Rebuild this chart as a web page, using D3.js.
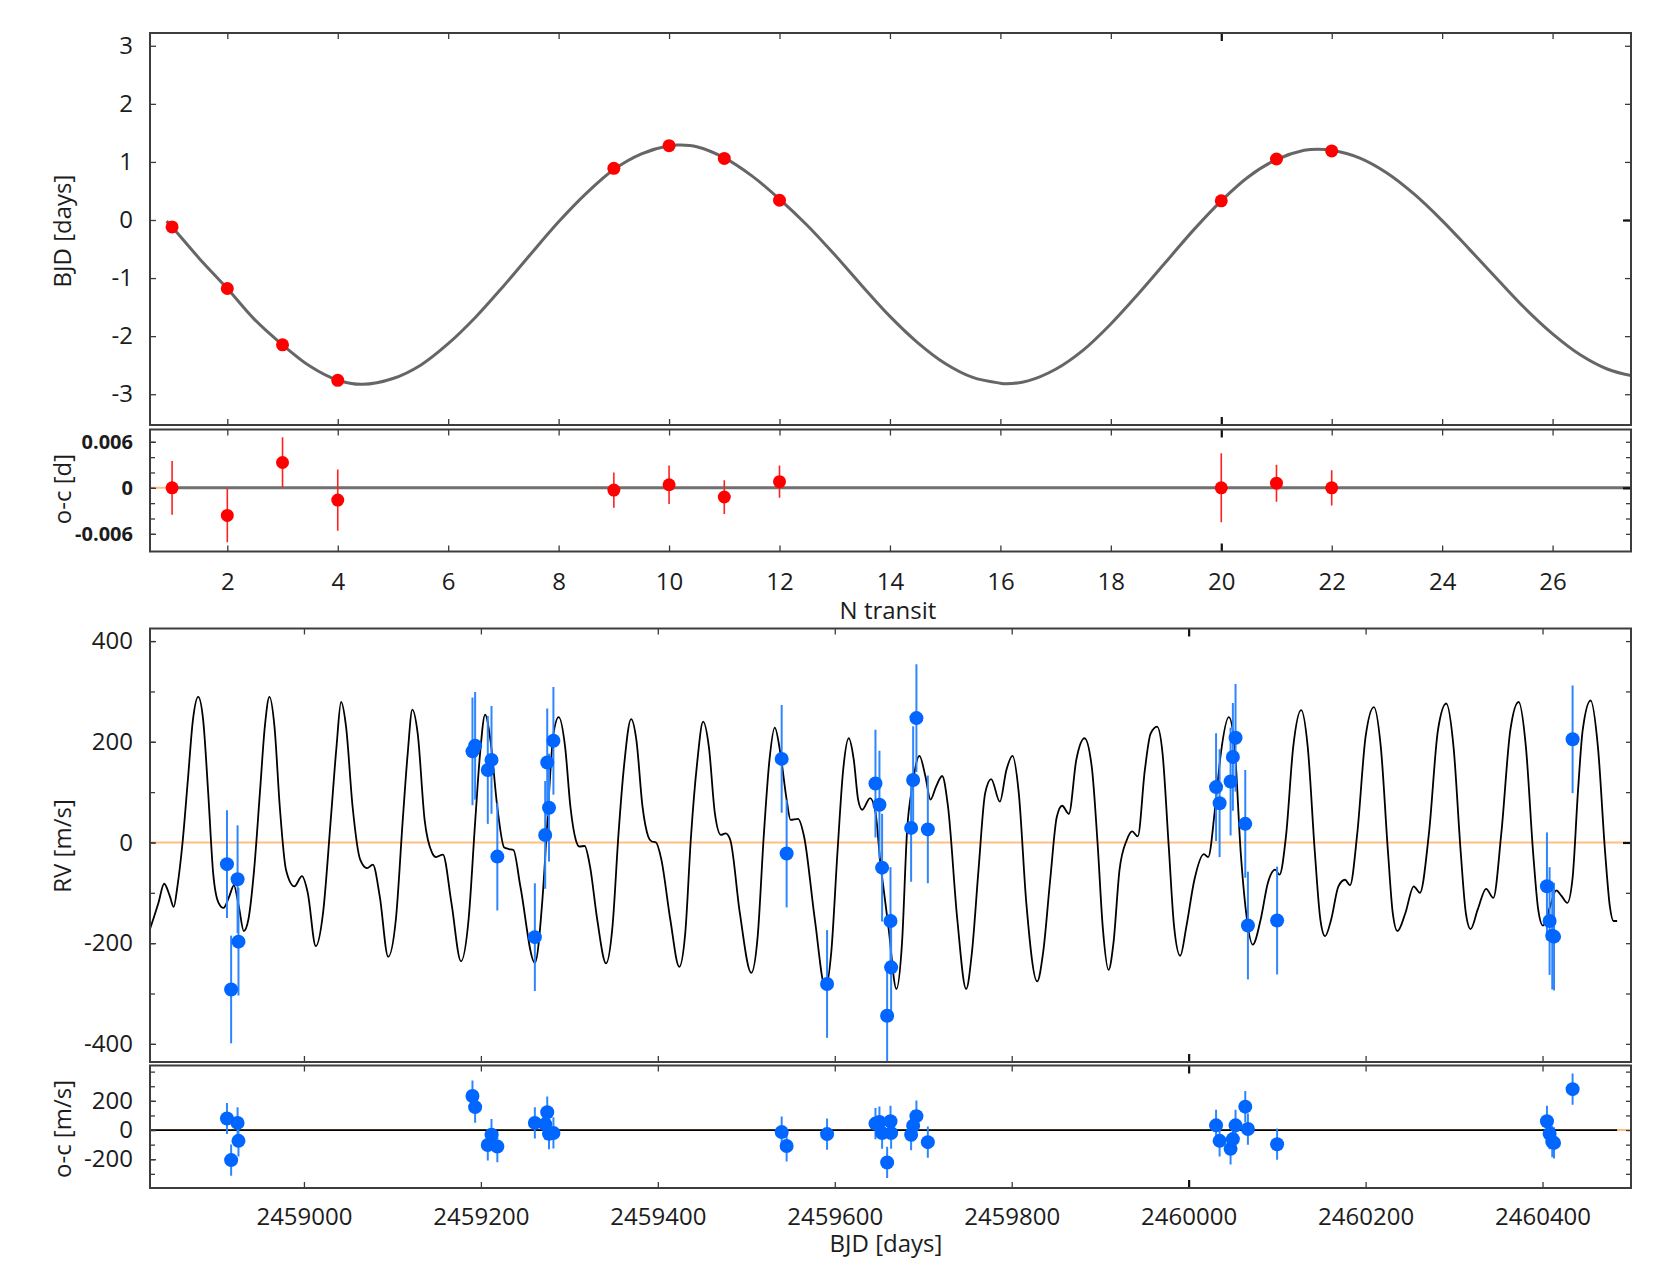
<!DOCTYPE html>
<html><head><meta charset="utf-8">
<script src="https://cdn.jsdelivr.net/npm/d3@7/dist/d3.min.js"></script>
<style>html,body{margin:0;padding:0;background:#fff;}</style>
</head><body>
<svg id="chart" width="1666" height="1270" xmlns="http://www.w3.org/2000/svg"></svg>
<script>
// ---------------- DATA ----------------
const transitN   = [1, 2, 3, 4, 9, 10, 11, 12, 20, 21, 22];
const transitTTV = [-0.12, -1.18, -2.15, -2.76, 0.89, 1.28, 1.06, 0.34, 0.33, 1.05, 1.19];
const transitOC  = [0, -0.0036, 0.0033, -0.0016, -0.0003, 0.0004, -0.0012, 0.0008, 0, 0.0006, 0];
const transitErr = [0.0035, 0.0035, 0.0033, 0.0040, 0.0023, 0.0025, 0.0022, 0.0021, 0.0045, 0.0024, 0.0023];

const ttvModelN   = [0.9, 1, 1.5, 2, 2.5, 3, 3.5, 4, 4.45, 5, 5.5, 6, 6.5, 7, 7.5, 8, 8.5, 9, 9.5, 10, 10.2, 10.5, 11, 11.5, 12, 12.5, 13, 13.5, 14, 14.5, 15, 15.5, 16, 16.1, 16.5, 17, 17.5, 18, 18.5, 19, 19.5, 20, 20.5, 21, 21.5, 21.75, 22, 22.5, 23, 23.5, 24, 24.5, 25, 25.5, 26, 26.5, 27, 27.42];
const ttvModelTTV = [-0.02, -0.12, -0.67, -1.18, -1.72, -2.15, -2.52, -2.76, -2.83, -2.73, -2.50, -2.13, -1.67, -1.14, -0.58, -0.03, 0.46, 0.87, 1.14, 1.28, 1.29, 1.26, 1.07, 0.76, 0.36, -0.09, -0.60, -1.14, -1.66, -2.11, -2.47, -2.71, -2.81, -2.82, -2.77, -2.57, -2.24, -1.79, -1.27, -0.72, -0.17, 0.33, 0.75, 1.04, 1.20, 1.22, 1.20, 1.07, 0.81, 0.44, -0.01, -0.51, -1.02, -1.52, -1.96, -2.32, -2.57, -2.68];

const rvBJD = [2458913, 2458917.7, 2458925, 2458926, 2459190.5, 2459193.5, 2459207.8, 2459212, 2459218.6, 2459261, 2459272.7, 2459275, 2459277, 2459282, 2459540, 2459545.6, 2459591.3, 2459646, 2459650.5, 2459653.5, 2459659.2, 2459663, 2459663.7, 2459686.3, 2459688.6, 2459692.3, 2459705.2, 2460031, 2460035, 2460047.4, 2460050, 2460053, 2460064, 2460067, 2460100, 2460405, 2460408, 2460411, 2460413, 2460434];
const rvVal = [-43, -292, -73, -197, 181, 192, 144, 164, -28, -188, 15, 159, 69, 202, 166, -22, -281, 117, 75, -50, -344, -156, -248, 29, 124, 247, 26, 110, 78, 121, 170, 208, 37, -165, -155, -87, -156, -185, -187, 205];
const rvErr = [107, 107, 107, 107, 107, 107, 107, 107, 107, 107, 107, 107, 107, 107, 107, 107, 107, 107, 107, 107, 107, 107, 107, 107, 107, 107, 107, 107, 107, 107, 107, 107, 107, 107, 107, 107, 107, 107, 107, 107];
const rvOC  = [79, -206, 49, -74, 233, 157, -102, -32, -113, 49, 40, 122, -25, -20, -14, -109, -28, 44, 55, -21, -222, 60, -21, -32, 30, 95, -83, 32, -74, -129, -62, 32, 160, 7, -97, 60, -25, -80, -88, 280];

const rvModelBJD = [2458826.0, 2458835.5, 2458842.0, 2458848.5, 2458852.8, 2458857.0, 2458862.8, 2458868.8, 2458874.5, 2458880.5, 2458886.1, 2458891.8, 2458897.4, 2458903.5, 2458909.1, 2458915.6, 2458920.8, 2458926.4, 2458932.0, 2458937.2, 2458943.7, 2458950.2, 2458955.8, 2458961.0, 2458966.7, 2458972.7, 2458979.7, 2458989.2, 2458997.8, 2459004.3, 2459013.4, 2459021.6, 2459030.3, 2459036.8, 2459042.0, 2459047.6, 2459055.0, 2459063.6, 2459071.4, 2459077.9, 2459085.7, 2459095.2, 2459103.9, 2459111.7, 2459117.3, 2459122.5, 2459128.6, 2459136.4, 2459145.0, 2459149.3, 2459157.1, 2459166.7, 2459177.5, 2459186.1, 2459193.5, 2459199.1, 2459204.8, 2459210.8, 2459218.6, 2459226.4, 2459231.6, 2459236.8, 2459244.6, 2459261.0, 2459269.7, 2459275.0, 2459282.0, 2459288.0, 2459295.2, 2459301.2, 2459307.3, 2459311.3, 2459317.3, 2459323.4, 2459331.5, 2459341.5, 2459348.8, 2459355.6, 2459361.7, 2459369.8, 2459375.8, 2459382.7, 2459389.1, 2459393.1, 2459398.0, 2459404.0, 2459414.1, 2459424.2, 2459431.0, 2459437.5, 2459444.4, 2459451.2, 2459457.7, 2459464.5, 2459471.4, 2459476.6, 2459481.9, 2459492.7, 2459505.6, 2459512.9, 2459519.7, 2459526.2, 2459532.2, 2459538.3, 2459545.6, 2459550.0, 2459558.5, 2459565.3, 2459577.5, 2459589.4, 2459596.0, 2459603.0, 2459609.5, 2459615.8, 2459621.5, 2459626.5, 2459631.0, 2459640.0, 2459646.0, 2459651.6, 2459656.5, 2459661.0, 2459669.7, 2459676.0, 2459681.8, 2459687.5, 2459695.7, 2459702.5, 2459708.2, 2459714.5, 2459721.4, 2459728.0, 2459738.5, 2459748.5, 2459755.0, 2459762.5, 2459770.0, 2459776.8, 2459786.6, 2459794.0, 2459800.9, 2459808.0, 2459816.5, 2459828.8, 2459835.5, 2459843.5, 2459851.0, 2459857.0, 2459864.6, 2459873.0, 2459882.3, 2459890.5, 2459897.0, 2459903.0, 2459909.5, 2459915.0, 2459921.9, 2459930.1, 2459936.2, 2459942.5, 2459950.5, 2459957.0, 2459964.3, 2459970.5, 2459977.5, 2459983.5, 2459990.5, 2459997.5, 2460006.5, 2460017.2, 2460022.1, 2460030.0, 2460036.4, 2460045.4, 2460051.5, 2460058.9, 2460065.0, 2460072.4, 2460081.4, 2460089.6, 2460097.8, 2460102.7, 2460110.0, 2460118.2, 2460127.2, 2460134.6, 2460142.7, 2460148.9, 2460154.2, 2460161.1, 2460169.3, 2460176.7, 2460182.4, 2460190.6, 2460200.0, 2460209.4, 2460217.2, 2460225.4, 2460230.7, 2460236.0, 2460245.0, 2460254.4, 2460261.4, 2460271.6, 2460281.8, 2460291.2, 2460299.4, 2460307.6, 2460313.3, 2460318.6, 2460326.8, 2460336.2, 2460344.4, 2460353.4, 2460363.6, 2460373.0, 2460381.2, 2460389.4, 2460395.1, 2460400.4, 2460408.6, 2460415.5, 2460421.0, 2460428.0, 2460434.0, 2460440.0, 2460445.4, 2460454.4, 2460462.6, 2460470.8, 2460476.1, 2460480.2, 2460484.3];
const rvModelVal = [-172, -120, -82, -107, -128, -87, 0, 124, 243, 289, 243, 98, -61, -120, -130, -107, -85, -127, -176, -153, -54, 98, 230, 289, 230, 71, -54, -87, -67, -100, -206, -140, 45, 190, 279, 230, 71, -34, -51, -44, -107, -227, -153, 45, 177, 264, 216, 45, -21, -29, -24, -120, -236, -153, 40, 177, 254, 203, 70, -10, -13, -15, -87, -239, -110, 37, 215, 249, 190, 71, 5, -8, -7, -48, -153, -240, -166, 18, 150, 245, 203, 71, 12, 2, 0, -34, -153, -247, -180, 12, 157, 240, 190, 58, 15, 18, 5, -140, -259, -186, 12, 164, 228, 180, 85, 45, 47, 12, -153, -289, -219, -21, 144, 207, 164, 84, 65, 88, 60, -41, -110, -173, -291, -200, 25, 110, 172, 131, 85, 111, 132, 71, -153, -291, -219, -54, 98, 126, 81, 144, 172, 98, -120, -276, -219, -74, 51, 73, 57, 164, 207, 150, 0, -170, -253, -200, -54, 5, 22, 12, 144, 216, 230, 177, -8, -166, -225, -166, -74, -23, -29, 70, 177, 249, 200, -21, -140, -203, -153, -80, -54, -64, 12, 190, 263, 190, -21, -153, -186, -153, -87, -74, -85, 18, 210, 269, 190, -21, -140, -176, -140, -87, -100, 18, 223, 276, 190, -21, -140, -172, -133, -92, -110, 18, 223, 279, 190, -21, -133, -165, -127, -95, -105, -120, -70, 100, 223, 282, 190, -21, -127, -156, -156];

const nTickValues   = [2, 4, 6, 8, 10, 12, 14, 16, 18, 20, 22, 24, 26];
const bjdTickValues = [2459000, 2459200, 2459400, 2459600, 2459800, 2460000, 2460200, 2460400];
const ttvTickValues = [-3, -2, -1, 0, 1, 2, 3];
const ttvOcMinor    = [-0.006, -0.004, -0.002, 0, 0.002, 0.004, 0.006];
const ttvOcLabels   = [-0.006, 0, 0.006];
const rvMinor       = [-400, -300, -200, -100, 0, 100, 200, 300, 400];
const rvLabels      = [-400, -200, 0, 200, 400];
const rvOcMinor     = [-300, -200, -100, 0, 100, 200, 300, 400];
const rvOcLabels    = [-200, 0, 200];

// ---------------- LAYOUT ----------------
const FONT = "'Open Sans', 'Noto Sans', sans-serif";
const L = 150, R = 1631;
const box = { ttv: [33, 425], ttvoc: [429.5, 551.5], rv: [628.5, 1062], rvoc: [1065.5, 1188] };

const svg = d3.select("#chart");
const xN = d3.scaleLinear().domain([0.6, 27.42]).range([L, R]);
const xB = d3.scaleLinear().domain([2458826, 2460500]).range([L, R]);
const yT  = d3.scaleLinear().domain([-3.53, 3.22]).range([box.ttv[1], box.ttv[0]]);
const yTo = d3.scaleLinear().domain([-0.0083, 0.0076]).range([box.ttvoc[1], box.ttvoc[0]]);
const yR  = d3.scaleLinear().domain([-436, 425]).range([box.rv[1], box.rv[0]]);
const yRo = d3.scaleLinear().domain([-397, 442]).range([box.rvoc[1], box.rvoc[0]]);

const fmt = d => String(d);
const defs = svg.append("defs");
function clip(id, b) {
  defs.append("clipPath").attr("id", id).append("rect")
    .attr("x", L).attr("y", b[0]).attr("width", R - L).attr("height", b[1] - b[0]);
}
clip("c1", box.ttv); clip("c2", box.ttvoc); clip("c3", box.rv); clip("c4", box.rvoc);

function addAxis(gen, tx, ty, o = {}) {
  const g = svg.append("g").attr("transform", `translate(${tx},${ty})`).call(gen);
  g.select(".domain").remove();
  g.selectAll(".tick line").attr("stroke", o.color || "#3a3a3a").attr("stroke-width", o.width || 1.3);
  g.selectAll(".tick text").attr("font-family", FONT).attr("font-size", o.size || 24)
    .attr("font-weight", o.weight || "normal").attr("fill", "#1c1c1c");
  return g;
}
const none = () => "";

// ---------- Panel 1: TTV ----------
const g1 = svg.append("g").attr("clip-path", "url(#c1)");
g1.append("path").datum(ttvModelTTV)
  .attr("d", d3.line().x((d, i) => xN(ttvModelN[i])).y(d => yT(d)).curve(d3.curveCatmullRom.alpha(0.5)))
  .attr("fill", "none").attr("stroke", "#666").attr("stroke-width", 3);
g1.selectAll("circle").data(transitN).join("circle")
  .attr("cx", d => xN(d)).attr("cy", (d, i) => yT(transitTTV[i])).attr("r", 6.5).attr("fill", "#ff0000");

addAxis(d3.axisLeft(yT).tickValues(ttvTickValues).tickSize(-6).tickPadding(17).tickFormat(fmt), L, 0);
addAxis(d3.axisRight(yT).tickValues(ttvTickValues).tickSize(-6).tickFormat(none), R, 0);
addAxis(d3.axisRight(yT).tickValues([0]).tickSize(-8).tickFormat(none), R, 0, {width: 2.2, color: "#111"});
addAxis(d3.axisTop(xN).tickValues(nTickValues).tickSize(-6).tickFormat(none), 0, box.ttv[0]);
addAxis(d3.axisBottom(xN).tickValues(nTickValues).tickSize(-6).tickFormat(none), 0, box.ttv[1]);
addAxis(d3.axisTop(xN).tickValues([20]).tickSize(-8).tickFormat(none), 0, box.ttv[0], {width: 2.2, color: "#111"});
addAxis(d3.axisBottom(xN).tickValues([20]).tickSize(-8).tickFormat(none), 0, box.ttv[1], {width: 2.2, color: "#111"});

// ---------- Panel 2: TTV o-c ----------
const g2 = svg.append("g").attr("clip-path", "url(#c2)");
g2.append("line").attr("x1", L).attr("x2", R).attr("y1", yTo(0)).attr("y2", yTo(0))
  .attr("stroke", "#ffbf80").attr("stroke-width", 2);
g2.append("line").attr("x1", xN(0.89)).attr("x2", R).attr("y1", yTo(0)).attr("y2", yTo(0))
  .attr("stroke", "#707070").attr("stroke-width", 3);
g2.selectAll("line.err").data(transitN).join("line").attr("class", "err")
  .attr("x1", d => xN(d)).attr("x2", d => xN(d))
  .attr("y1", (d, i) => yTo(transitOC[i] - transitErr[i])).attr("y2", (d, i) => yTo(transitOC[i] + transitErr[i]))
  .attr("stroke", "#ff2020").attr("stroke-width", 1.6);
g2.selectAll("circle").data(transitN).join("circle")
  .attr("cx", d => xN(d)).attr("cy", (d, i) => yTo(transitOC[i])).attr("r", 6.5).attr("fill", "#ff0000");

addAxis(d3.axisLeft(yTo).tickValues(ttvOcMinor).tickSize(-5).tickFormat(none), L, 0);
addAxis(d3.axisLeft(yTo).tickValues(ttvOcLabels).tickSize(-6).tickPadding(17).tickFormat(fmt), L, 0, {size: 20, weight: "bold"});
addAxis(d3.axisRight(yTo).tickValues(ttvOcMinor).tickSize(-5).tickFormat(none), R, 0);
addAxis(d3.axisRight(yTo).tickValues([0]).tickSize(-8).tickFormat(none), R, 0, {width: 2.2, color: "#111"});
addAxis(d3.axisTop(xN).tickValues(nTickValues).tickSize(-6).tickFormat(none), 0, box.ttvoc[0]);
addAxis(d3.axisBottom(xN).tickValues(nTickValues).tickSize(-6).tickPadding(21).tickFormat(fmt), 0, box.ttvoc[1]);
addAxis(d3.axisTop(xN).tickValues([20]).tickSize(-8).tickFormat(none), 0, box.ttvoc[0], {width: 2.2, color: "#111"});
addAxis(d3.axisBottom(xN).tickValues([20]).tickSize(-8).tickFormat(none), 0, box.ttvoc[1], {width: 2.2, color: "#111"});

// ---------- Panel 3: RV ----------
const g3 = svg.append("g").attr("clip-path", "url(#c3)");
g3.append("line").attr("x1", L).attr("x2", R).attr("y1", yR(0)).attr("y2", yR(0))
  .attr("stroke", "#ffbf80").attr("stroke-width", 2);
g3.append("path").datum(rvModelVal)
  .attr("d", d3.line().x((d, i) => xB(rvModelBJD[i])).y(d => yR(d)).curve(d3.curveMonotoneX))
  .attr("fill", "none").attr("stroke", "#000").attr("stroke-width", 1.8);
g3.selectAll("line.err").data(rvBJD).join("line").attr("class", "err")
  .attr("x1", d => xB(d)).attr("x2", d => xB(d))
  .attr("y1", (d, i) => yR(rvVal[i] - rvErr[i])).attr("y2", (d, i) => yR(rvVal[i] + rvErr[i]))
  .attr("stroke", "#2e86ff").attr("stroke-width", 2);
g3.selectAll("circle").data(rvBJD).join("circle")
  .attr("cx", d => xB(d)).attr("cy", (d, i) => yR(rvVal[i])).attr("r", 7).attr("fill", "#0066ff");

addAxis(d3.axisLeft(yR).tickValues(rvMinor).tickSize(-5).tickFormat(none), L, 0);
addAxis(d3.axisLeft(yR).tickValues(rvLabels).tickSize(-6).tickPadding(17).tickFormat(fmt), L, 0);
addAxis(d3.axisRight(yR).tickValues(rvMinor).tickSize(-5).tickFormat(none), R, 0);
addAxis(d3.axisRight(yR).tickValues([0]).tickSize(-8).tickFormat(none), R, 0, {width: 2.2, color: "#111"});
addAxis(d3.axisTop(xB).tickValues(bjdTickValues).tickSize(-6).tickFormat(none), 0, box.rv[0]);
addAxis(d3.axisBottom(xB).tickValues(bjdTickValues).tickSize(-6).tickFormat(none), 0, box.rv[1]);
addAxis(d3.axisTop(xB).tickValues([2460000]).tickSize(-8).tickFormat(none), 0, box.rv[0], {width: 2.2, color: "#111"});
addAxis(d3.axisBottom(xB).tickValues([2460000]).tickSize(-8).tickFormat(none), 0, box.rv[1], {width: 2.2, color: "#111"});

// ---------- Panel 4: RV o-c ----------
const g4 = svg.append("g").attr("clip-path", "url(#c4)");
g4.append("line").attr("x1", L).attr("x2", R).attr("y1", yRo(0)).attr("y2", yRo(0))
  .attr("stroke", "#ffbf80").attr("stroke-width", 2);
g4.append("line").attr("x1", L).attr("x2", xB(rvModelBJD[rvModelBJD.length - 1])).attr("y1", yRo(0)).attr("y2", yRo(0))
  .attr("stroke", "#000").attr("stroke-width", 1.8);
g4.selectAll("line.err").data(rvBJD).join("line").attr("class", "err")
  .attr("x1", d => xB(d)).attr("x2", d => xB(d))
  .attr("y1", (d, i) => yRo(rvOC[i] - rvErr[i])).attr("y2", (d, i) => yRo(rvOC[i] + rvErr[i]))
  .attr("stroke", "#2e86ff").attr("stroke-width", 2);
g4.selectAll("circle").data(rvBJD).join("circle")
  .attr("cx", d => xB(d)).attr("cy", (d, i) => yRo(rvOC[i])).attr("r", 7).attr("fill", "#0066ff");

addAxis(d3.axisLeft(yRo).tickValues(rvOcMinor).tickSize(-5).tickFormat(none), L, 0);
addAxis(d3.axisLeft(yRo).tickValues(rvOcLabels).tickSize(-6).tickPadding(17).tickFormat(fmt), L, 0);
addAxis(d3.axisRight(yRo).tickValues(rvOcMinor).tickSize(-5).tickFormat(none), R, 0);
addAxis(d3.axisTop(xB).tickValues(bjdTickValues).tickSize(-6).tickFormat(none), 0, box.rvoc[0]);
addAxis(d3.axisBottom(xB).tickValues(bjdTickValues).tickSize(-6).tickPadding(20).tickFormat(fmt), 0, box.rvoc[1]);
addAxis(d3.axisTop(xB).tickValues([2460000]).tickSize(-8).tickFormat(none), 0, box.rvoc[0], {width: 2.2, color: "#111"});
addAxis(d3.axisBottom(xB).tickValues([2460000]).tickSize(-8).tickFormat(none), 0, box.rvoc[1], {width: 2.2, color: "#111"});

// ---------- Frames ----------
Object.values(box).forEach(b => {
  svg.append("rect").attr("x", L).attr("y", b[0]).attr("width", R - L).attr("height", b[1] - b[0])
    .attr("fill", "none").attr("stroke", "#3d3d3d").attr("stroke-width", 2);
});

// ---------- Axis titles ----------
function ytitle(text, cy) {
  svg.append("text").attr("transform", `translate(71,${cy}) rotate(-90)`)
    .attr("text-anchor", "middle").attr("font-family", FONT).attr("font-size", 24).attr("fill", "#1c1c1c").text(text);
}
ytitle("BJD [days]", 231);
ytitle("o-c [d]", 489);
ytitle("RV [m/s]", 846);
ytitle("o-c [m/s]", 1129);
svg.append("text").attr("x", 888).attr("y", 619).attr("text-anchor", "middle")
  .attr("font-family", FONT).attr("font-size", 24).attr("fill", "#1c1c1c").text("N transit");
svg.append("text").attr("x", 886).attr("y", 1252).attr("text-anchor", "middle")
  .attr("font-family", FONT).attr("font-size", 24).attr("fill", "#1c1c1c").text("BJD [days]");
</script>
</body></html>
